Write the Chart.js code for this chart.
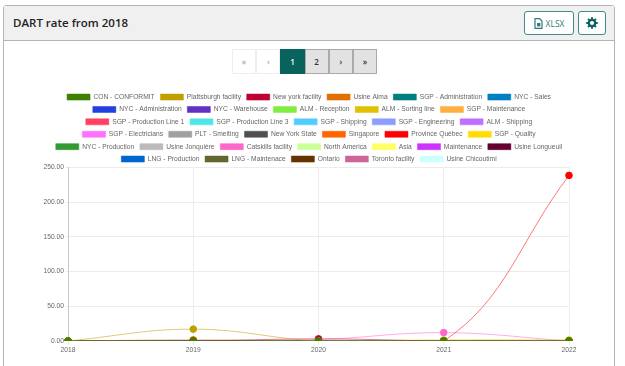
<!DOCTYPE html>
<html>
<head>
<meta charset="utf-8">
<script src="https://cdn.jsdelivr.net/npm/chart.js@4"></script>
<style>
  html, body { margin:0; padding:0; background:#fff; overflow:hidden; }
  body { width:625px; height:366px; position:relative; font-family:"Open Sans", sans-serif; }
  #card { position:absolute; left:3px; top:5px; width:610px; height:380px; border:1px solid #b4b4b4; border-radius:3px; box-sizing:content-box; }
  #head { position:absolute; left:0; top:0; right:0; height:34px; background:#f0f0f0; border-bottom:1px solid #b4b4b4; }
  #title { position:absolute; left:9px; top:9px; font-size:11.5px; line-height:16px; font-weight:600; color:#222; }
  .btn { position:absolute; top:5px; height:24px; box-sizing:border-box; background:#fff; border:1px solid #3f8f88; border-radius:3px; color:#2f7f79; font-size:8.5px; display:flex; align-items:center; justify-content:center; }
  #xlsx { left:520px; width:50px; }
  #xlsx svg { margin-right:3px; }
  #gear { left:574px; width:28px; }
  #pager { position:absolute; left:232px; top:49px; height:25px; display:flex; }
  #pager div { width:24.2px; height:25px; box-sizing:border-box; font-size:8px; font-weight:600; display:flex; align-items:center; justify-content:center; }
  .off { border:1px solid #eee; background:#fff; color:#aaa; }
  .cur { background:#07635b; color:#fff; }
  .on { background:#e2e2e2; border:1px solid #aaa; color:#333; }
  #wrap { position:absolute; left:4px; top:88px; width:609px; height:267px; }
</style>
</head>
<body>
<div id="card">
  <div id="head">
    <div id="title">DART rate from 2018</div>
    <div class="btn" id="xlsx"><svg width="9" height="11" viewBox="0 0 9 11"><path d="M1 .7h4.6L8 3.1v7.2H1z" fill="none" stroke="#2f7f79" stroke-width="1.2"/><path d="M3 5h3.4v3.4H3z" fill="#2f7f79"/></svg>XLSX</div>
    <div class="btn" id="gear"><svg width="12" height="12" viewBox="0 0 12 12"><circle cx="6" cy="6" r="3.2" fill="none" stroke="#07635b" stroke-width="2.2"/><path d="M6 .3v2.4M6 9.3v2.4M.3 6h2.4M9.3 6h2.4M2 2l1.7 1.7M8.3 8.3 10 10M10 2 8.3 3.7M3.7 8.3 2 10" stroke="#07635b" stroke-width="1.9"/></svg></div>
  </div>
</div>
<div id="pager">
  <div class="off">«</div><div class="off">‹</div><div class="cur">1</div><div class="on">2</div><div class="on">›</div><div class="on">»</div>
</div>
<div id="wrap"><canvas id="chart"></canvas></div>
<script>
// chart data
const years = ["2018", "2019", "2020", "2021", "2022"];

const seriesNames = [
  "CON - CONFORMIT", "Plattsburgh facility", "New york facility", "Usine Alma", "SGP - Administration", "NYC - Sales",
  "NYC - Administration", "NYC - Warehouse", "ALM - Reception", "ALM - Sorting line", "SGP - Maintenance",
  "SGP - Production Line 1", "SGP - Production Line 3", "SGP - Shipping", "SGP - Engineering", "ALM - Shipping",
  "SGP - Electricians", "PLT - Smelting", "New York State", "Singapore", "Province Québec", "SGP - Quality",
  "NYC - Production", "Usine Jonquière", "Catskills facility", "North America", "Asia", "Maintenance", "Usine Longueuil",
  "LNG - Production", "LNG - Maintenace", "Ontario", "Toronto facility", "Usine Chicoutimi"
];

const seriesColors = [
  "#408000", "#bfa000", "#bf0033", "#e07000", "#007f7f", "#0080c0",
  "#2040e0", "#6030c0", "#80ee40", "#e0c000", "#ffb040",
  "#ff4060", "#50e6e6", "#50ccff", "#8c9cff", "#c070ff",
  "#ff70ff", "#a0a0a0", "#505050", "#ff6600", "#ff0000", "#ffdd00",
  "#339933", "#bbbbbb", "#ff66cc", "#ccff99", "#ffff66", "#cc33ff", "#660033",
  "#0066cc", "#666633", "#663300", "#cc6699", "#ccffff"
];

const seriesValues = [
  [0, 0, 0, 0, 0],
  [0, 17, 0, 0, 0],
  [0, 0, 3, 0, 0],
  [0, 1.5, 0, 0, 0],
  [0, 0, 0, 0, 0],
  [0, 0, 0, 0, 0],
  [0, 0, 0, 0, 0],
  [0, 0, 0, 0, 0],
  [0, 0, 0, 0, 0],
  [0, 0, 0, 1.2, 1.2],
  [0, 0, 0, 0, 0],
  [0, 0, 0, 0, 0],
  [0, 0, 0, 0, 0],
  [0, 0, 0, 0, 0],
  [0, 0, 0, 0, 0],
  [0, 0, 0, 0, 0],
  [0, 0, 0, 0, 0],
  [0, 0, 0, 0, 0],
  [0, 0, 0, 0, 0],
  [0, 0, 0, 0, 0],
  [0, 0, 0, 0, 238.5],
  [0, 0, 0, 1.2, 1.2],
  [0, 0, 0, 0, 0],
  [0, 0, 0, 0, 0],
  [0, 0, 2, 12, 0],
  [0, 0, 0, 0, 0],
  [0, 0, 0, 0, 0],
  [0, 0, 0, 0, 0],
  [0, 0, 0, 0, 0],
  [0, 0, 0, 0, 0],
  [0, 0, 0, 0, 0],
  [0, 0, 0, 0, 0],
  [0, 0, 0, 0, 0],
  [0, 0, 0, 0, 0]
];

const yTicks = [0, 50, 100, 150, 200, 250];

const chartFont = { family: "'Liberation Sans'", size: 6.7 };

const datasets = seriesNames.map((name, i) => ({
  label: name,
  data: seriesValues[i],
  backgroundColor: seriesColors[i],
  borderColor: seriesColors[i] + "88",
  borderWidth: 1,
  pointBackgroundColor: seriesColors[i],
  pointBorderColor: seriesColors[i],
  pointRadius: 3.3,
  tension: 0.4
}));

// legend is centred on the card, not on the plot, and sits tight above it
const legendTweak = {
  id: "legendTweak",
  beforeInit(chart) {
    const fit = chart.legend.fit;
    chart.legend.fit = function () {
      fit.call(this);
      this.height -= 5;
    };
  },
  afterLayout(chart) {
    chart.legend.left += 8.5;
    chart.legend.right += 8.5;
  }
};

new Chart(document.getElementById("chart"), {
  type: "line",
  data: { labels: years, datasets },
  plugins: [legendTweak],
  options: {
    responsive: true,
    maintainAspectRatio: false,
    animation: false,
    layout: { padding: { left: 28, right: 44, top: 0, bottom: 0 } },
    plugins: {
      legend: {
        position: "top",
        labels: { boxWidth: 23, boxHeight: 6, padding: 5.7, color: "#666", font: chartFont }
      },
      tooltip: { enabled: false }
    },
    scales: {
      x: {
        grid: { color: "#ececec", tickLength: 4 },
        border: { color: "#c8c8c8" },
        ticks: { color: "#666", font: chartFont, padding: 1, maxRotation: 0 }
      },
      y: {
        min: 0,
        max: 250,
        afterBuildTicks: axis => { axis.ticks = yTicks.map(v => ({ value: v })); },
        afterFit: axis => { axis.width = 36; },
        grid: { color: "#ececec", tickLength: 2 },
        border: { color: "#c8c8c8" },
        ticks: { color: "#666", font: chartFont, padding: 2, callback: v => v.toFixed(2) }
      }
    }
  }
});
</script>
</body>
</html>
